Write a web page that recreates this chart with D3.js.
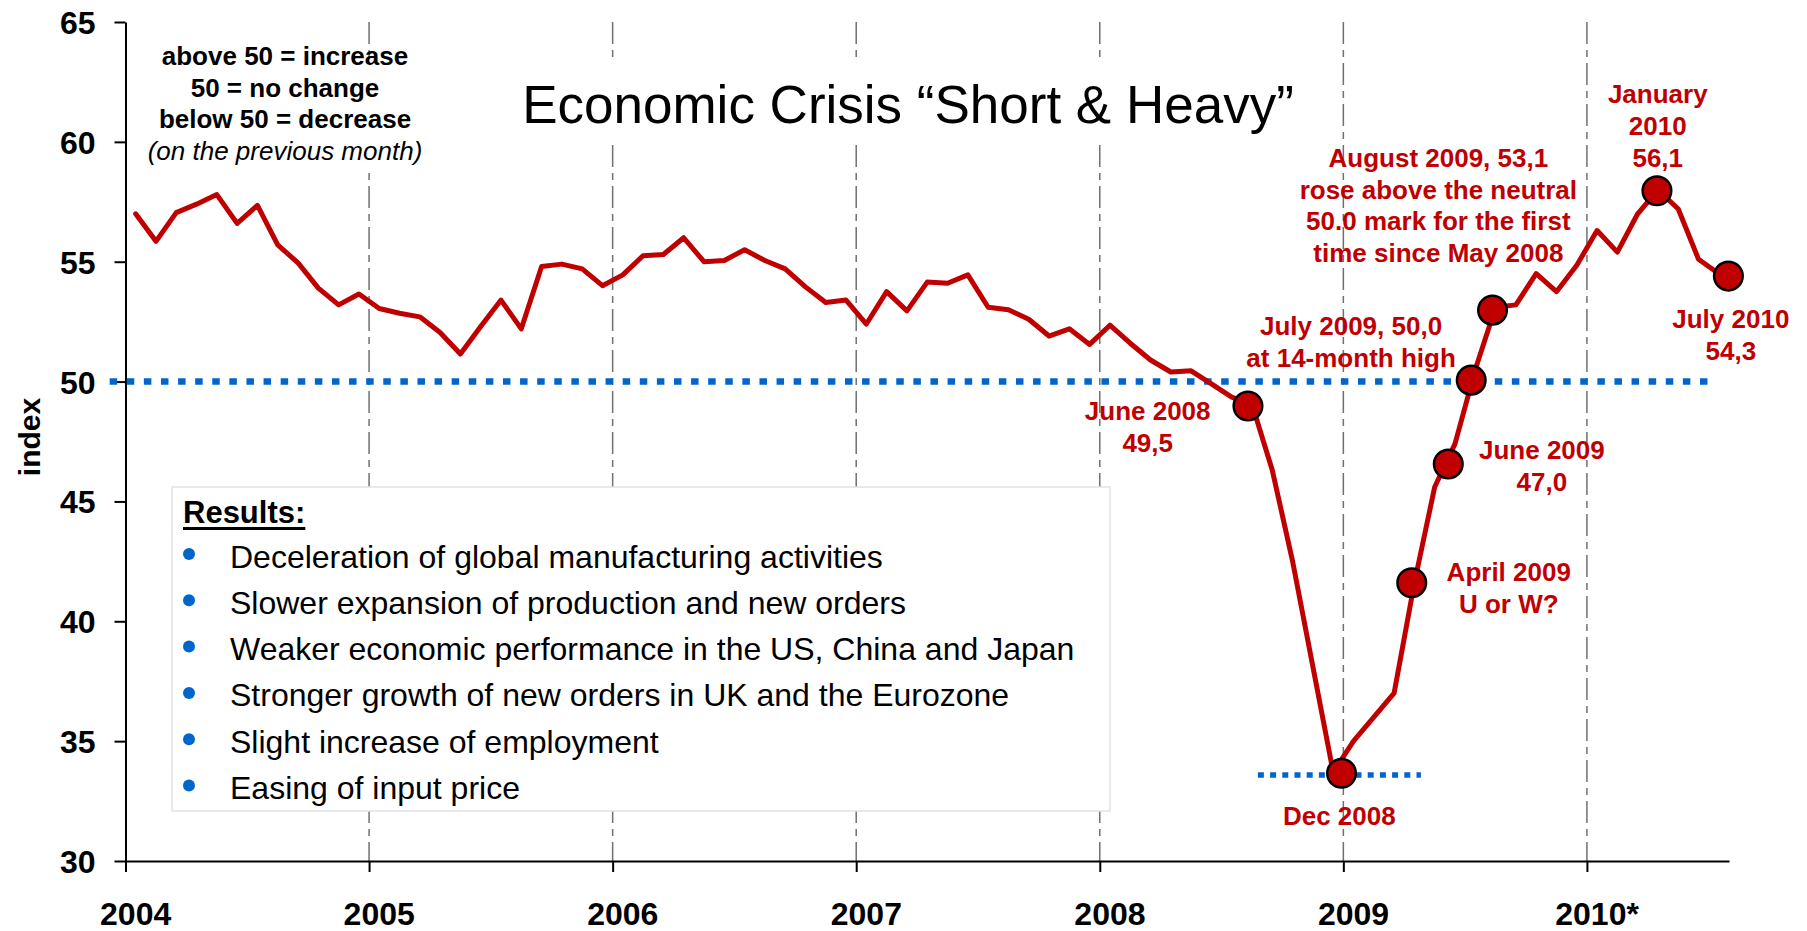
<!DOCTYPE html>
<html><head><meta charset="utf-8">
<script src="https://cdn.jsdelivr.net/npm/d3@7"></script>
<style>
html,body{margin:0;padding:0;background:#fff;}
svg{display:block;font-family:"Liberation Sans",Arial,Helvetica,sans-serif;}
</style></head><body>
<svg id="chart" width="1807" height="931"></svg>
<script>
// ---------- DATA ----------
// Monthly global manufacturing index, Jan 2004 .. Jul 2010
const yearLabels = ["2004","2005","2006","2007","2008","2009","2010*"];
const pmi = [
  57.0, 55.85, 57.05, 57.4, 57.8, 56.6, 57.35, 55.7, 54.95, 53.9, 53.2, 53.65,
  53.05, 52.85, 52.7, 52.05, 51.15, 52.3, 53.4, 52.2, 54.8, 54.9, 54.7, 54.0,
  54.45, 55.25, 55.3, 56.0, 55.0, 55.05, 55.5, 55.05, 54.7, 53.95, 53.3, 53.4,
  52.4, 53.75, 52.95, 54.15, 54.1, 54.45, 53.1, 53.0, 52.6, 51.9, 52.2, 51.55,
  52.35, 51.6, 50.9, 50.4, 50.45, 49.9, 49.35, 49.05, 46.3, 42.5, 38.1, 33.7,
  35.0, 36.0, 37.0, 41.6, 45.6, 47.4, 50.5, 53.1, 53.2, 54.5, 53.75, 54.85,
  56.3, 55.4, 57.0, 58.0, 57.2, 55.1, 54.5
];
const yTicks = [30, 35, 40, 45, 50, 55, 60, 65];
// highlighted points (month index from Jan 2004, value)
const markerMonth = [54.8, 59.41, 62.87, 64.67, 65.8, 66.85, 74.95, 78.47];
const markerValue = [48.98, 33.66, 41.61, 46.56, 50.06, 52.98, 57.96, 54.4];
// reference lines (value, from month, to month)
const refNeutral = [50, -1.28, 77.85];
const refTrough = [33.59, 55.29, 63.32];
// annotation texts, anchored in data units (month index, value of first baseline)
const annTexts = [
  ["June 2008", "49,5"],
  ["Dec 2008"],
  ["April 2009", "U or W?"],
  ["June 2009", "47,0"],
  ["July 2009, 50,0", "at 14-month high"],
  ["August 2009, 53,1", "rose above the neutral", "50.0 mark for the first", "time since May 2008"],
  ["January", "2010", "56,1"],
  ["July 2010", "54,3"]
];
const annMonth = [49.86, 59.30, 67.65, 69.28, 59.88, 64.18, 74.99, 78.59];
const annValue = [48.40, 31.50, 41.66, 46.77, 51.94, 58.96, 61.61, 52.22];
const infoLines = ["above 50 = increase", "50 = no change", "below 50 = decrease", "(on the previous month)"];
const resultsTitle = "Results:";
const resultsItems = [
  "Deceleration of global manufacturing activities",
  "Slower expansion of production and new orders",
  "Weaker economic performance in the US, China and Japan",
  "Stronger growth of new orders in UK and the Eurozone",
  "Slight increase of employment",
  "Easing of input price"
];
const titleText = "Economic Crisis \u201CShort & Heavy\u201D";

// ---------- LAYOUT ----------
const RED = "#C00000", BLUE = "#0066CC";
const svg = d3.select("#chart");
const x = d3.scaleLinear().domain([0, pmi.length]).range([125.5, 1729]);
const px = m => x(m + 0.5);           // month (point index) -> pixel
const y = d3.scaleLinear().domain([30, 65]).range([861, 22]);
const yearStarts = yearLabels.map((d, i) => i * 12);

// vertical dashed gridlines
svg.append("g").selectAll("line").data(yearStarts.slice(1)).join("line")
  .attr("x1", d => x(d)).attr("x2", d => x(d))
  .attr("y1", y(65)).attr("y2", y(30))
  .attr("stroke", "#707070").attr("stroke-width", 1.5)
  .attr("stroke-dasharray", "22,6,7,6");

// white text-box backgrounds (hide gridlines as in the original)
svg.append("rect").attr("x", 138).attr("y", 58).attr("width", 296).attr("height", 115).attr("fill", "#fff");
svg.append("rect").attr("x", 500).attr("y", 58).attr("width", 820).attr("height", 85).attr("fill", "#fff");

// Results box
const rb = svg.append("g");
rb.append("rect").attr("x", 172).attr("y", 487).attr("width", 938).attr("height", 324)
  .attr("fill", "#fff").attr("stroke", "#dfe4e8").attr("stroke-width", 1.5);
const rt = rb.append("text").attr("x", 183).attr("y", 522.5)
  .attr("font-size", 31).attr("font-weight", "bold").attr("fill", "#000").text(resultsTitle);
const rtw = rt.node().getComputedTextLength();
rb.append("line").attr("x1", 183).attr("x2", 183 + rtw).attr("y1", 528.5).attr("y2", 528.5)
  .attr("stroke", "#000").attr("stroke-width", 3);
const items = rb.selectAll("g.item").data(resultsItems).join("g").attr("class", "item")
  .attr("transform", (d, i) => `translate(0,${567.5 + i * 46.3})`);
items.append("circle").attr("cx", 189).attr("cy", -13.5).attr("r", 6).attr("fill", BLUE);
items.append("text").attr("x", 230).attr("y", 0).attr("font-size", 32).attr("fill", "#000").text(d => d);

// axes
const yAxis = d3.axisLeft(y).tickValues(yTicks).tickSize(11).tickSizeOuter(0).tickPadding(19).tickFormat(d3.format("d"));
const gy = svg.append("g").attr("transform", `translate(${x(0)},0)`).call(yAxis);
gy.selectAll("text").attr("font-size", 32).attr("font-weight", "bold").attr("fill", "#000")
  .attr("font-family", "'Liberation Sans',Arial,sans-serif").attr("dy", "0.36em");
const xAxis = d3.axisBottom(x).tickValues(yearStarts).tickSize(11).tickSizeOuter(0).tickFormat("");
const gx = svg.append("g").attr("transform", `translate(0,${y(30)})`).call(xAxis);
[gx, gy].forEach(g => {
  g.select(".domain").attr("stroke", "#000").attr("stroke-width", 2);
  g.selectAll(".tick line").attr("stroke", "#000").attr("stroke-width", 2);
});
svg.append("g").selectAll("text").data(yearLabels).join("text")
  .attr("x", (d, i) => px(yearStarts[i])).attr("y", 925)
  .attr("text-anchor", "middle").attr("font-size", 32).attr("font-weight", "bold").attr("fill", "#000")
  .text(d => d);
svg.append("text").attr("transform", "translate(40,437) rotate(-90)")
  .attr("text-anchor", "middle").attr("font-size", 30).attr("font-weight", "bold").text("index");

// reference dotted lines
svg.append("line").attr("x1", px(refNeutral[1])).attr("x2", px(refNeutral[2]))
  .attr("y1", y(refNeutral[0])).attr("y2", y(refNeutral[0]))
  .attr("stroke", BLUE).attr("stroke-width", 6.5).attr("stroke-dasharray", "7.5,9.6");
svg.append("line").attr("x1", px(refTrough[1])).attr("x2", px(refTrough[2]))
  .attr("y1", y(refTrough[0])).attr("y2", y(refTrough[0]))
  .attr("stroke", BLUE).attr("stroke-width", 5.5).attr("stroke-dasharray", "6,6.2");

// index line
const line = d3.line().x((d, i) => px(i)).y(d => y(d));
svg.append("path").datum(pmi).attr("d", line).attr("fill", "none")
  .attr("stroke", RED).attr("stroke-width", 5).attr("stroke-linejoin", "round").attr("stroke-linecap", "round");

// markers
svg.append("g").selectAll("circle").data(markerMonth).join("circle")
  .attr("cx", d => px(d)).attr("cy", (d, i) => y(markerValue[i])).attr("r", 14.3)
  .attr("fill", RED).attr("stroke", "#000").attr("stroke-width", 2.5);

// title
svg.append("text").attr("x", 908).attr("y", 123).attr("text-anchor", "middle")
  .attr("font-size", 53).attr("fill", "#000").text(titleText);

// info text
svg.append("g").selectAll("text").data(infoLines).join("text")
  .attr("x", 285).attr("y", (d, i) => 65 + i * 31.7).attr("text-anchor", "middle")
  .attr("font-size", 26).attr("fill", "#000")
  .attr("font-weight", (d, i) => i < 3 ? "bold" : "normal")
  .attr("font-style", (d, i) => i < 3 ? "normal" : "italic")
  .text(d => d);

// annotations
const ag = svg.append("g").attr("fill", RED).attr("font-size", 26).attr("font-weight", "bold").attr("text-anchor", "middle");
annTexts.forEach((lines, k) => {
  const t = ag.append("text").attr("x", px(annMonth[k])).attr("y", y(annValue[k]));
  lines.forEach((s, j) => {
    t.append("tspan").attr("x", px(annMonth[k])).attr("dy", j === 0 ? 0 : 31.8).text(s);
  });
});
</script>
</body></html>
